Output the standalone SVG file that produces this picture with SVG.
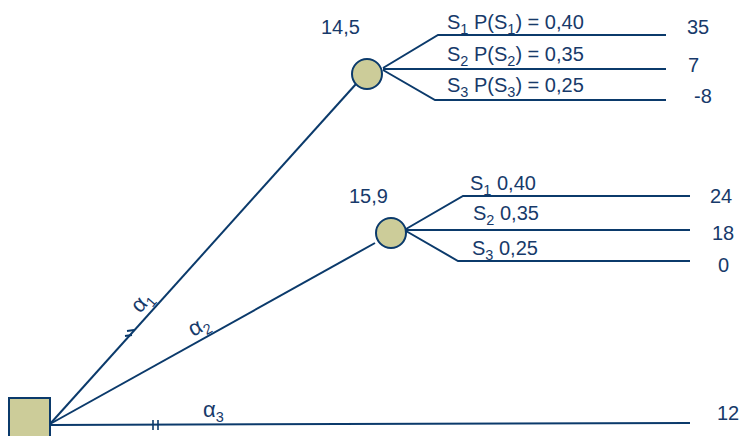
<svg xmlns="http://www.w3.org/2000/svg" width="741" height="436" viewBox="0 0 741 436">
<style>
.ln{stroke:#0b3a6b;stroke-width:2;fill:none;stroke-linecap:butt}
.t{font-family:"Liberation Sans",Arial,sans-serif;font-size:20px;fill:#173a6a}
.s{font-size:14.5px}
.a{font-size:22px}
.chance{fill:#cccc99;stroke:#0b3a6b;stroke-width:2}
</style>
<rect width="741" height="436" fill="#ffffff"/>
<g id="connectors">
<line class="ln" x1="50" y1="424" x2="356" y2="84"/>
<line class="ln" x1="50" y1="424" x2="375" y2="243"/>
<line class="ln" x1="50" y1="425" x2="690" y2="423"/>
<path class="ln" d="M383,68 L438,35 L666,35"/>
<path class="ln" d="M383,69 L666,69"/>
<path class="ln" d="M383,70 L435,100 L666,100"/>
<path class="ln" d="M406,229 L463,196 L690,196"/>
<path class="ln" d="M406,230 L690,230"/>
<path class="ln" d="M406,231 L458,261 L690,261"/>
<line class="ln" x1="153" y1="420" x2="153" y2="430" style="stroke-width:1.6"/>
<line class="ln" x1="158" y1="420" x2="158" y2="430" style="stroke-width:1.6"/>
<line class="ln" x1="127" y1="331" x2="134" y2="330" style="stroke-width:1.8"/>
<line class="ln" x1="125" y1="336" x2="132" y2="335" style="stroke-width:1.8"/>
<text class="t a" transform="translate(140,314) rotate(-48)">α<tspan class="s" dy="5">1</tspan></text>
<text class="t a" transform="translate(193,337) rotate(-29)">α<tspan class="s" dy="5">2</tspan></text>
<text class="t a" x="203" y="417">α<tspan class="s" dy="5">3</tspan></text>
</g>
<g id="decision">
<rect x="9" y="398" width="41" height="45" fill="#cccc99" stroke="#0b3a6b" stroke-width="2"/>
</g>
<g id="chance1">
<circle class="chance" cx="367" cy="74" r="15"/>
<text class="t" x="321" y="34">14,5</text>
</g>
<g id="chance2">
<circle class="chance" cx="391" cy="233" r="15"/>
<text class="t" x="349" y="203">15,9</text>
</g>
<g id="labels1">
<text class="t" x="447" y="29">S<tspan class="s" dy="5">1</tspan><tspan dy="-5"> P(S</tspan><tspan class="s" dy="5">1</tspan><tspan dy="-5">) = 0,40</tspan></text>
<text class="t" x="447" y="61">S<tspan class="s" dy="5">2</tspan><tspan dy="-5"> P(S</tspan><tspan class="s" dy="5">2</tspan><tspan dy="-5">) = 0,35</tspan></text>
<text class="t" x="447" y="92">S<tspan class="s" dy="5">3</tspan><tspan dy="-5"> P(S</tspan><tspan class="s" dy="5">3</tspan><tspan dy="-5">) = 0,25</tspan></text>
<text class="t" x="687" y="34">35</text>
<text class="t" x="688" y="72">7</text>
<text class="t" x="694" y="103">-8</text>
</g>
<g id="labels2">
<text class="t" x="470" y="190">S<tspan class="s" dy="5">1</tspan><tspan dy="-5"> 0,40</tspan></text>
<text class="t" x="473" y="220">S<tspan class="s" dy="5">2</tspan><tspan dy="-5"> 0,35</tspan></text>
<text class="t" x="472" y="255">S<tspan class="s" dy="5">3</tspan><tspan dy="-5"> 0,25</tspan></text>
<text class="t" x="710" y="203">24</text>
<text class="t" x="712" y="240">18</text>
<text class="t" x="718" y="272">0</text>
<text class="t" x="717" y="420">12</text>
</g>
</svg>
